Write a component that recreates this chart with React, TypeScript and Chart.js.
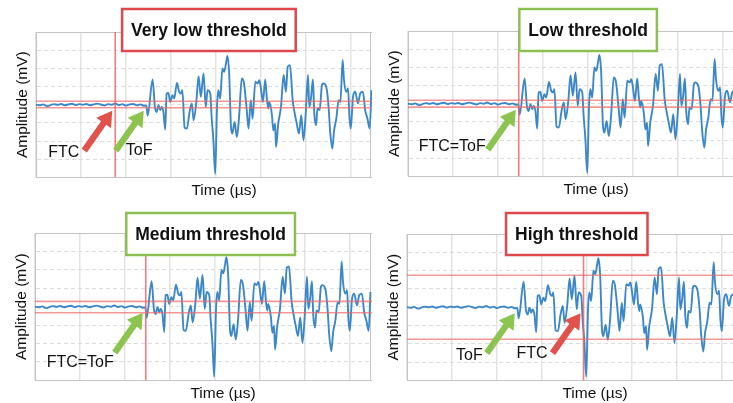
import React, { useEffect, useRef } from "react";
import { Chart, registerables } from "chart.js";
Chart.register(...registerables);

// ---- data ----
const X_MIN = 0;
const X_MAX = 83.5;
const Y_MIN = -4;
const Y_MAX = 4;
const X_STEP = 10;
const Y_STEP = 1;

const TIME_US = [
  0, 0.8, 1.6, 2.4, 3.2, 4, 4.8, 5.6, 6.4, 7.2, 8, 8.8, 9.6, 10.4, 11.2, 12, 12.8, 13.6, 14.4, 15.2, 16, 16.8,
  17.6, 18.4, 19.2, 20, 20.8, 21.6, 22.4, 23.2, 24, 24.5,
  24.8, 25.9, 26.4, 26.8, 27.2, 27.6, 27.9, 28.3, 28.7, 29.0, 29.4, 29.8, 30.3, 30.7, 31.3, 31.8, 32.2, 32.5,
  33.0, 33.5, 34.1, 34.6, 35.0, 35.6, 36.1, 36.6, 37.2, 37.7, 38.1, 38.7, 39.0, 39.4, 39.8, 40.2, 40.5, 40.9,
  41.4, 41.8, 42.2, 42.5, 42.9, 43.3, 43.6, 44.1, 44.6, 45.1, 45.7, 46.2, 46.8, 47.2, 47.7, 48.1, 48.7, 49.2,
  49.6, 50.0, 50.4, 50.9, 51.3, 51.6, 51.8, 52.4, 52.7, 53.1, 53.3, 53.8, 54.4, 55.0, 55.5, 55.9, 56.4, 57.0,
  57.4, 57.9, 58.4, 58.9, 59.4, 59.9, 60.4, 60.7, 61.1, 61.5, 61.8, 62.2, 62.5, 63.0, 63.5, 63.8, 64.3, 64.6,
  65.0, 65.3, 65.8, 66.2, 66.7, 67.2, 67.6, 68.1, 68.4, 68.9, 69.3, 69.6, 69.9, 70.4, 70.9, 71.5, 72.0, 72.6,
  73.1, 73.6, 74.1, 74.5,
];
const AMPLITUDE_MV = [
  0.0, -0.03, 0.02, -0.08, -0.02, 0.03, -0.01, 0.04, -0.03, 0.02, 0.05, -0.02, 0.03, 0.0, 0.04, -0.03, 0.02, 0.06,
  0.01, -0.04, 0.03, 0.0, 0.07, -0.02, 0.03, -0.05, 0.02, 0.04, -0.03, 0.02, -0.06, -0.04,
  -0.6, 1.39, -0.12, -0.4, -0.03, -0.3, -0.12, -0.4, -1.37, 0.62, 0.65, 0.15, 0.52, 0.34, 1.2, 0.71, 0.62, 0.8,
  -1.26, -1.31, -0.4, 0.07, -0.86, 0.15, 1.57, 0.43, 1.72, -0.12, 0.8, 0.62, -0.67, -1.96, -3.8, -0.12, 0.8, 0.34,
  2.0, 1.81, 2.28, 2.68, 1.72, -1.23, -1.59, -0.95, -1.78, -0.67, 1.45, 1.17, -0.3, -1.31, 0.25, -0.76, 1.26, 1.17,
  1.35, 0.8, 0.15, 1.39, 0.25, -0.21, 0.15, -0.58, -1.41, -1.04, -2.33, -1.04, -0.12, 1.63, 0.71, 2.09, 2.18, 0.25,
  -0.4, -1.04, -1.59, -0.58, -1.96, -0.49, 1.63, -0.12, 0.43, 1.39, -0.49, -1.13, -0.21, -0.3, 1.08, 1.17, 1.08, 0.8,
  -0.21, -1.41, -2.42, -1.41, -0.76, 0.25, 0.15, 2.46, 1.35, 0.71, 0.9, -0.67, -1.31, 0.43, 0.71, 0.07, 0.62, 0.71,
  -0.3, -0.76, -1.31, 0.8,
];

const PANEL_TITLES = ["Very low threshold", "Low threshold", "Medium threshold", "High threshold"];
const UPPER_THRESHOLD = [0.19, 0.19, 0.29, 1.75];
const LOWER_THRESHOLD = [-0.17, -0.19, -0.33, -1.75];
const FTC_US = [17.6, 24.6, 24.6, 39.2];
const TOF_US = [24.6, 24.6, 24.6, 24.6];
const PANEL_OK = [false, true, true, false];

const X_TITLE = "Time (µs)";
const Y_TITLE = "Amplitude (mV)";

// ---- styles ----
const RED = "#e0474c";
const GREEN = "#8cc152";
const ARROW_RED = "#e0524b";
const ARROW_GREEN = "#8dc44f";
const FONT = "'Liberation Sans', Arial, Helvetica, sans-serif";

type Label = { at: "ftc" | "tof"; color: string; text: string; side: "left" | "right"; dx: number; dy: number };

const PANELS = [
  {
    left: 0, top: 0, clipW: 372, h: 204, padTop: 32, padLeft: 9.4, boxCenter: 38.4, boxTop: -23, edge: true,
    labels: [
      { at: "ftc", color: ARROW_RED, text: "FTC", side: "left", dx: -5, dy: 2 },
      { at: "tof", color: ARROW_GREEN, text: "ToF", side: "right", dx: 10, dy: 0 },
    ] as Label[],
  },
  {
    left: 372, top: 0, clipW: 361, h: 203, padTop: 31, padLeft: 9.4, boxCenter: 40, boxTop: -22, edge: false,
    labels: [{ at: "tof", color: ARROW_GREEN, text: "FTC=ToF", side: "left", dx: -2, dy: -3 }] as Label[],
  },
  {
    left: 0, top: 200, clipW: 372, h: 207, padTop: 33, padLeft: 8.4, boxCenter: 39, boxTop: -20, edge: true,
    labels: [{ at: "tof", color: ARROW_GREEN, text: "FTC=ToF", side: "left", dx: -1, dy: 10 }] as Label[],
  },
  {
    left: 372, top: 200, clipW: 361, h: 207, padTop: 34, padLeft: 8.4, boxCenter: 37.7, boxTop: -21, edge: false,
    labels: [
      { at: "tof", color: ARROW_GREEN, text: "ToF", side: "left", dx: -4, dy: 2 },
      { at: "ftc", color: ARROW_RED, text: "FTC", side: "left", dx: -5, dy: 0 },
    ] as Label[],
  },
];

function drawArrow(ctx: CanvasRenderingContext2D, tx: number, ty: number, hx: number, hy: number, color: string) {
  const ang = Math.atan2(hy - ty, hx - tx);
  const len = Math.hypot(hx - tx, hy - ty);
  const headL = 15;
  const headW = 9;
  const shaftW = 3.2;
  ctx.save();
  ctx.translate(tx, ty);
  ctx.rotate(ang);
  ctx.fillStyle = color;
  ctx.beginPath();
  ctx.moveTo(0, -shaftW);
  ctx.lineTo(len - headL, -shaftW);
  ctx.lineTo(len - headL, -headW);
  ctx.lineTo(len, 0);
  ctx.lineTo(len - headL, headW);
  ctx.lineTo(len - headL, shaftW);
  ctx.lineTo(0, shaftW);
  ctx.closePath();
  ctx.fill();
  ctx.restore();
}

const annotPlugin = {
  id: "annot",
  beforeDatasetsDraw(chart: any) {
    const { ctx, chartArea: ca } = chart;
    const cfg = chart.options.plugins.annot;
    ctx.save();
    ctx.strokeStyle = "#c4c4c4";
    ctx.lineWidth = 1;
    ctx.beginPath();
    ctx.moveTo(ca.left, ca.top + 0.5);
    ctx.lineTo(ca.right, ca.top + 0.5);
    ctx.moveTo(ca.right - 0.5, ca.top);
    ctx.lineTo(ca.right - 0.5, ca.bottom);
    if (cfg.edgeX) {
      ctx.moveTo(cfg.edgeX - 0.5, ca.top);
      ctx.lineTo(cfg.edgeX - 0.5, ca.bottom);
    }
    ctx.stroke();
    ctx.restore();
  },
  afterDraw(chart: any) {
    const { ctx, chartArea: ca, scales } = chart;
    const xs = scales.x;
    const ys = scales.y;
    const cfg = chart.options.plugins.annot;
    ctx.save();
    // title box
    ctx.font = `bold 17.5px ${FONT}`;
    const tw = ctx.measureText(cfg.title).width;
    const bw = tw + 18;
    const bh = 42;
    const cx = xs.getPixelForValue(cfg.boxCenter);
    const bx = cx - bw / 2;
    const by = ca.top + cfg.boxTop;
    ctx.fillStyle = "#ffffff";
    ctx.fillRect(bx, by, bw, bh);
    ctx.strokeStyle = cfg.ok ? GREEN : RED;
    ctx.lineWidth = 2.5;
    ctx.strokeRect(bx, by, bw, bh);
    ctx.fillStyle = "#111111";
    ctx.textAlign = "center";
    ctx.textBaseline = "middle";
    ctx.fillText(cfg.title, cx, by + bh / 2 + 1);
    // arrows + labels
    const base = ys.getPixelForValue(0);
    for (const l of cfg.labels as Label[]) {
      const t = l.at === "ftc" ? cfg.ftc : cfg.tof;
      const hx = xs.getPixelForValue(t) - 3;
      const hy = base + 6;
      const tx = hx - 28;
      const ty = hy + 40;
      drawArrow(ctx, tx, ty, hx, hy, l.color);
      ctx.font = `16px ${FONT}`;
      ctx.fillStyle = "#111111";
      ctx.textBaseline = "middle";
      ctx.textAlign = l.side === "left" ? "right" : "left";
      ctx.fillText(l.text, tx + l.dx, ty + l.dy);
    }
    ctx.restore();
  },
};

function Panel({ i }: { i: number }) {
  const ref = useRef<HTMLCanvasElement>(null);
  const p = PANELS[i];
  const canvasW = p.padLeft + 26.6 + 376 + 6;
  useEffect(() => {
    const signal = TIME_US.map((t, k) => ({ x: t, y: AMPLITUDE_MV[k] }));
    const chart = new Chart(ref.current!, {
      type: "line",
      data: {
        datasets: [
          {
            data: [{ x: X_MIN, y: UPPER_THRESHOLD[i] }, { x: X_MAX, y: UPPER_THRESHOLD[i] }],
            borderColor: "rgba(238,105,105,0.7)",
            borderWidth: 1.6,
            pointRadius: 0,
            order: 0,
          },
          {
            data: [{ x: X_MIN, y: LOWER_THRESHOLD[i] }, { x: X_MAX, y: LOWER_THRESHOLD[i] }],
            borderColor: "rgba(238,105,105,0.7)",
            borderWidth: 1.6,
            pointRadius: 0,
            order: 0,
          },
          {
            data: [{ x: FTC_US[i], y: Y_MIN }, { x: FTC_US[i], y: Y_MAX }],
            borderColor: "rgba(238,95,95,0.8)",
            borderWidth: 1.6,
            pointRadius: 0,
            order: 0,
          },
          {
            data: signal,
            borderColor: "#3c87c7",
            borderWidth: 1.9,
            pointRadius: 0,
            cubicInterpolationMode: "monotone",
            order: 1,
          },
        ],
      },
      options: {
        animation: false,
        responsive: false,
        devicePixelRatio: 1,
        layout: { padding: { left: p.padLeft, top: p.padTop, right: 6, bottom: 0 } },
        plugins: {
          legend: { display: false },
          tooltip: { enabled: false },
          annot: {
            title: PANEL_TITLES[i],
            ok: PANEL_OK[i],
            ftc: FTC_US[i],
            tof: TOF_US[i],
            boxCenter: p.boxCenter,
            boxTop: p.boxTop,
            labels: p.labels,
            edgeX: p.edge ? p.clipW - 1 : 0,
          },
        } as any,
        scales: {
          x: {
            type: "linear",
            min: X_MIN,
            max: X_MAX,
            ticks: { display: false, stepSize: X_STEP },
            grid: { color: "#e3e3e3", lineWidth: 1.5, drawTicks: false },
            border: { color: "#c4c4c4", width: 1 },
            title: { display: true, text: X_TITLE, color: "#111", font: { family: FONT, size: 15.5 } },
          },
          y: {
            min: Y_MIN,
            max: Y_MAX,
            ticks: { display: false, stepSize: Y_STEP },
            grid: { color: "#dcdcdc", lineWidth: 1, drawTicks: false },
            border: { color: "#c4c4c4", width: 1, dash: [4, 3] },
            title: { display: true, text: Y_TITLE, color: "#111", font: { family: FONT, size: 15.5 } },
          },
        },
      },
      plugins: [annotPlugin as any],
    });
    return () => chart.destroy();
  }, [i]);
  return (
    <div
      style={{ position: "absolute", left: p.left, top: p.top, width: p.clipW, height: p.h, overflow: "hidden" }}
    >
      <canvas ref={ref} width={Math.round(canvasW)} height={p.h} style={{ display: "block" }} />
    </div>
  );
}

export default function App() {
  return (
    <div
      style={{
        position: "absolute",
        left: 0,
        top: 0,
        width: 733,
        height: 403,
        overflow: "hidden",
        background: "#ffffff",
      }}
    >
      {[0, 1, 2, 3].map((i) => (
        <Panel key={i} i={i} />
      ))}
    </div>
  );
}
